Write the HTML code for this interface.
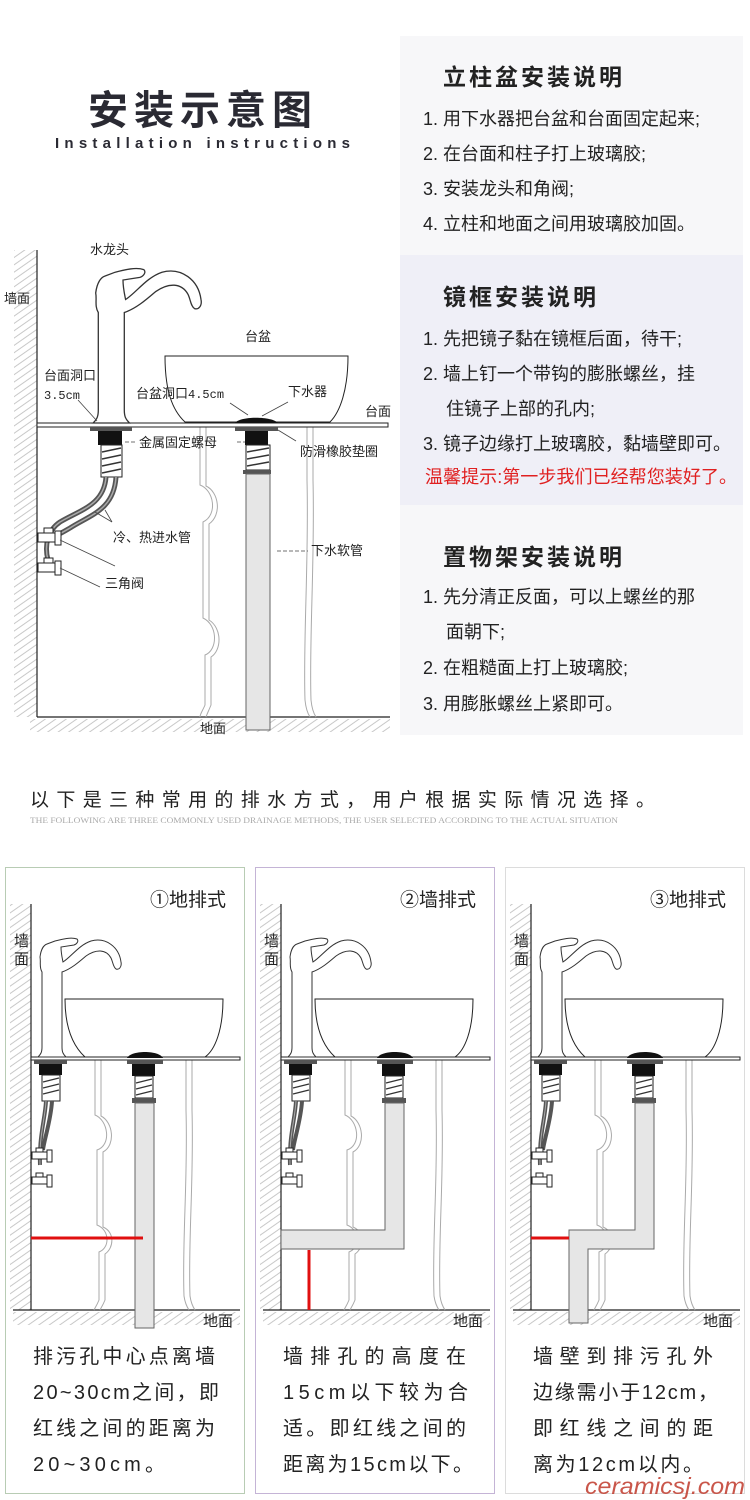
<!DOCTYPE html>
<html><head><meta charset="utf-8"><style>
html,body{margin:0;padding:0;background:#fff;}
svg{display:block;font-family:"Liberation Sans","Noto Sans CJK SC",sans-serif;}
</style></head><body>
<svg width="750" height="1500" viewBox="0 0 750 1500" xmlns="http://www.w3.org/2000/svg">
<defs>
<pattern id="h" width="6" height="6" patternUnits="userSpaceOnUse" patternTransform="rotate(-35)">
<rect width="6" height="6" fill="#fff"/><line x1="0" y1="3" x2="6" y2="3" stroke="#c8c8c8" stroke-width="1"/>
</pattern>
<path id="fau" d="M-3,0 C0,-3 1,-5 1,-10 L1,-85 C-2,-90 0,-95 -1,-100 C0,-108 3,-112 6,-113 L14,-116 C22,-118 30,-120 36,-118 C38,-116 36,-113 33,-112 L20,-110 C20,-104 21,-100 22,-95 C30,-100 38,-112 50,-116 C65,-120 78,-110 80,-95 C81,-90 78,-87 75,-88 C72,-90 72,-95 70,-99 C65,-108 55,-108 45,-101 C38,-95 30,-88 21,-85 L21,-10 C21,-5 22,-3 25,0 Z" fill="#fff" stroke="#333" stroke-width="1"/>
</defs>

<!-- Title -->
<text x="203" y="124" font-size="40" font-weight="bold" fill="#2a2a33" text-anchor="middle" letter-spacing="6">安装示意图</text>
<text x="55" y="148" font-size="15" font-weight="bold" fill="#2a2a33" textLength="295" lengthAdjust="spacing">Installation instructions</text>

<!-- Right panels -->
<rect x="400" y="36" width="343" height="219" fill="#f7f7f9"/>
<rect x="400" y="255" width="343" height="250" fill="#efeff7"/>
<rect x="400" y="505" width="343" height="230" fill="#f7f7f9"/>
<g fill="#222" font-size="18">
<text x="443" y="85" font-size="23" font-weight="bold" letter-spacing="3">立柱盆安装说明</text>
<text x="423" y="125">1. 用下水器把台盆和台面固定起来;</text>
<text x="423" y="160">2. 在台面和柱子打上玻璃胶;</text>
<text x="423" y="195">3. 安装龙头和角阀;</text>
<text x="423" y="230">4. 立柱和地面之间用玻璃胶加固。</text>
<text x="443" y="305" font-size="23" font-weight="bold" letter-spacing="3">镜框安装说明</text>
<text x="423" y="345">1. 先把镜子黏在镜框后面，待干;</text>
<text x="423" y="380">2. 墙上钉一个带钩的膨胀螺丝，挂</text>
<text x="446" y="415">住镜子上部的孔内;</text>
<text x="423" y="450">3. 镜子边缘打上玻璃胶，黏墙壁即可。</text>
<text x="425" y="483" fill="#e02020" textLength="312" lengthAdjust="spacingAndGlyphs">温馨提示:第一步我们已经帮您装好了。</text>
<text x="443" y="565" font-size="23" font-weight="bold" letter-spacing="3">置物架安装说明</text>
<text x="423" y="603">1. 先分清正反面，可以上螺丝的那</text>
<text x="446" y="638">面朝下;</text>
<text x="423" y="674">2. 在粗糙面上打上玻璃胶;</text>
<text x="423" y="710">3. 用膨胀螺丝上紧即可。</text>
</g>

<!-- Top diagram -->
<rect x="14" y="250" width="23" height="467" fill="url(#h)"/>
<rect x="30" y="719" width="360" height="13" fill="url(#h)"/>
<line x1="37" y1="250" x2="37" y2="717" stroke="#222" stroke-width="1.2"/>
<line x1="37" y1="717" x2="390" y2="717" stroke="#222" stroke-width="1.2"/>
<!-- pedestal -->
<g fill="none" stroke="#aaa" stroke-width="1">
<path d="M200,427 L200,485 C214,490 218,515 203,522 L203,618 C218,625 218,650 205,655 L205,705 C203,710 200,714 200,717"/>
<path d="M206,427 L206,486 C219,492 222,515 209,524 L209,620 C222,628 222,650 211,657 L211,705 C209,710 207,714 206,717"/>
<path d="M307,427 L307,480 C309,560 303,640 305,700 C306,710 308,714 310,717"/>
<path d="M313,427 L313,480 C315,560 309,640 311,700 C312,710 314,714 316,717"/>
</g>
<!-- basin -->
<path d="M165,356 L348,356 C348,390 340,412 330,422 L185,422 C172,410 165,390 165,356 Z" fill="#fff" stroke="#222" stroke-width="1"/>
<rect x="37" y="423" width="351" height="4" fill="#fff" stroke="#222" stroke-width="1"/>
<use href="#fau" transform="translate(97,423) scale(1.3)"/>
<!-- faucet fittings -->
<rect x="90" y="427" width="42" height="4" fill="#555"/>
<rect x="98" y="431" width="24" height="14" fill="#111"/>
<rect x="101" y="445" width="21" height="32" fill="#fff" stroke="#222"/>
<g stroke="#333" stroke-width="1.5"><line x1="102" y1="452" x2="121" y2="448"/><line x1="102" y1="459" x2="121" y2="455"/><line x1="102" y1="466" x2="121" y2="462"/><line x1="102" y1="473" x2="121" y2="469"/></g>
<!-- hoses -->
<g fill="none">
<path d="M106,477 C104,505 80,510 60,522 C48,530 44,545 48,560" stroke="#555" stroke-width="5"/>
<path d="M106,477 C104,505 80,510 60,522 C48,530 44,545 48,560" stroke="#aaa" stroke-width="1.5"/>
<path d="M116,477 C114,510 90,515 70,528 C58,535 50,540 45,535" stroke="#555" stroke-width="5"/>
<path d="M116,477 C114,510 90,515 70,528 C58,535 50,540 45,535" stroke="#aaa" stroke-width="1.5"/>
</g>
<g fill="#fff" stroke="#222" stroke-width="1">
<rect x="44" y="528" width="9" height="5"/><rect x="38" y="533" width="18" height="9"/><rect x="55" y="531" width="6" height="14"/>
<rect x="44" y="558" width="9" height="5"/><rect x="38" y="563" width="18" height="9"/><rect x="55" y="561" width="6" height="14"/>
</g>
<!-- drain -->
<path d="M235,423 C240,416 272,416 278,423 Z" fill="#111"/>
<rect x="235" y="427" width="43" height="4" fill="#555"/>
<rect x="245" y="431" width="23" height="14" fill="#111"/>
<rect x="246" y="445" width="24" height="25" fill="#fff" stroke="#222"/>
<g stroke="#333" stroke-width="1.5"><line x1="247" y1="452" x2="269" y2="448"/><line x1="247" y1="459" x2="269" y2="455"/><line x1="247" y1="466" x2="269" y2="462"/></g>
<rect x="243" y="470" width="28" height="4" fill="#555"/>
<rect x="246" y="474" width="24" height="256" fill="#e6e6e6" stroke="#666"/>
<!-- leader lines -->
<g stroke="#444" stroke-width="0.8" fill="none">
<line x1="78" y1="400" x2="97" y2="421"/>
<line x1="230" y1="403" x2="248" y2="415"/>
<line x1="288" y1="402" x2="262" y2="416"/>
<line x1="278" y1="430" x2="296" y2="441"/>
<line x1="95" y1="512" x2="112" y2="522"/><line x1="105" y1="510" x2="112" y2="522"/>
<line x1="60" y1="540" x2="115" y2="566"/>
<line x1="60" y1="568" x2="100" y2="587"/>
<line x1="125" y1="442" x2="136" y2="442" stroke-dasharray="4,2"/>
<line x1="237" y1="442" x2="245" y2="442" stroke-dasharray="4,2"/>
<line x1="277" y1="551" x2="308" y2="551" stroke-dasharray="4,2"/>
</g>
<g font-size="13" fill="#222">
<text x="90" y="254">水龙头</text>
<text x="4" y="303">墙面</text>
<text x="245" y="341">台盆</text>
<text x="44" y="380">台面洞口</text>
<text x="44" y="399" font-family="Liberation Mono,monospace" font-size="12">3.5cm</text>
<text x="136" y="398">台盆洞口<tspan font-family="Liberation Mono,monospace" font-size="12">4.5cm</tspan></text>
<text x="288" y="396">下水器</text>
<text x="365" y="416">台面</text>
<text x="139" y="447">金属固定螺母</text>
<text x="300" y="456">防滑橡胶垫圈</text>
<text x="113" y="542">冷、热进水管</text>
<text x="311" y="555">下水软管</text>
<text x="105" y="588">三角阀</text>
<text x="200" y="733">地面</text>
</g>

<!-- middle text -->
<text x="30" y="806" font-size="19" fill="#222" textLength="625" lengthAdjust="spacing">以下是三种常用的排水方式，用户根据实际情况选择。</text>
<text x="30" y="823" font-size="8" fill="#aaa" font-family="Liberation Serif,serif" textLength="588" lengthAdjust="spacingAndGlyphs">THE FOLLOWING ARE THREE COMMONLY USED DRAINAGE METHODS, THE USER SELECTED ACCORDING TO THE ACTUAL SITUATION</text>

<!-- Bottom panels -->
<rect x="5.5" y="867.5" width="239" height="626" fill="#fff" stroke="#b8ccb4"/>
<rect x="255.5" y="867.5" width="239" height="626" fill="#fff" stroke="#c4b4d6"/>
<rect x="505.5" y="867.5" width="239" height="626" fill="#fff" stroke="#dcdcdc"/>

<g id="sd">
<rect x="260" y="904" width="21" height="406" fill="url(#h)"/>
<rect x="263" y="1312" width="227" height="13" fill="url(#h)"/>
<line x1="281" y1="904" x2="281" y2="1310" stroke="#222" stroke-width="1.2"/>
<line x1="263" y1="1310" x2="490" y2="1310" stroke="#222" stroke-width="1.2"/>
<g fill="none" stroke="#aaa" stroke-width="1">
<path d="M345,1060 L345,1115 C358,1120 362,1145 347,1150 L347,1225 C360,1230 360,1248 349,1252 L349,1300 C347,1305 345,1308 344,1310"/>
<path d="M351,1060 L351,1116 C363,1122 366,1145 353,1152 L353,1227 C365,1232 364,1248 355,1254 L355,1300 C353,1305 351,1308 350,1310"/>
<path d="M436,1060 L436,1110 C438,1180 432,1240 434,1296 C435,1303 437,1307 439,1310"/>
<path d="M442,1060 L442,1110 C444,1180 438,1240 440,1296 C441,1303 443,1307 445,1310"/>
</g>
<path d="M315,999 L473,999 C473,1030 465,1050 455,1057 L335,1057 C322,1045 315,1025 315,999 Z" fill="#fff" stroke="#222" stroke-width="1"/>
<rect x="281" y="1057" width="209" height="3" fill="#fff" stroke="#222" stroke-width="1"/>
<use href="#fau" transform="translate(291,1057)"/>
<rect x="284" y="1060" width="33" height="4" fill="#555"/>
<rect x="289" y="1064" width="23" height="11" fill="#111"/>
<rect x="292" y="1075" width="18" height="26" fill="#fff" stroke="#222"/>
<g stroke="#333" stroke-width="1.3"><line x1="293" y1="1082" x2="309" y2="1078"/><line x1="293" y1="1088" x2="309" y2="1084"/><line x1="293" y1="1094" x2="309" y2="1090"/></g>
<g fill="none">
<path d="M296,1101 C295,1120 289,1135 290,1165" stroke="#555" stroke-width="4"/>
<path d="M302,1101 C301,1120 294,1140 293,1150" stroke="#555" stroke-width="4"/>
<path d="M296,1101 C295,1120 289,1135 290,1165" stroke="#aaa" stroke-width="1"/>
</g>
<g fill="#fff" stroke="#222" stroke-width="1">
<rect x="286" y="1148" width="7" height="4"/><rect x="282" y="1152" width="15" height="7"/><rect x="297" y="1150" width="5" height="12"/>
<rect x="286" y="1173" width="7" height="4"/><rect x="282" y="1177" width="15" height="7"/><rect x="297" y="1175" width="5" height="12"/>
</g>
<path d="M377,1058 C381,1050 409,1050 413,1058 Z" fill="#111"/>
<rect x="377" y="1060" width="36" height="4" fill="#555"/>
<rect x="382" y="1064" width="23" height="12" fill="#111"/>
<rect x="385" y="1076" width="18" height="22" fill="#fff" stroke="#222"/>
<g stroke="#333" stroke-width="1.3"><line x1="386" y1="1083" x2="402" y2="1079"/><line x1="386" y1="1089" x2="402" y2="1085"/><line x1="386" y1="1095" x2="402" y2="1091"/></g>
<rect x="382" y="1098" width="24" height="5" fill="#555"/>
<text x="264" y="946" font-size="15" fill="#222">墙</text>
<text x="264" y="964" font-size="15" fill="#222">面</text>
<text x="453" y="1326" font-size="15" fill="#222">地面</text>
</g>
<use href="#sd" transform="translate(-250,0)"/>
<use href="#sd" transform="translate(250,0)"/>

<!-- pipes -->
<rect x="135" y="1103" width="19" height="225" fill="#e6e6e6" stroke="#666"/>
<line x1="31" y1="1238" x2="143" y2="1238" stroke="#e01010" stroke-width="3"/>
<path d="M385,1103 L404,1103 L404,1249 L281,1249 L281,1230 L385,1230 Z" fill="#e6e6e6" stroke="#666"/>
<line x1="309" y1="1250" x2="309" y2="1310" stroke="#e01010" stroke-width="3"/>
<path d="M635,1103 L654,1103 L654,1249 L588,1249 L588,1323 L569,1323 L569,1230 L635,1230 Z" fill="#e6e6e6" stroke="#666"/>
<line x1="531" y1="1238" x2="569" y2="1238" stroke="#e01010" stroke-width="3"/>

<g font-size="19" fill="#222">
<text x="150" y="906">①地排式</text>
<text x="400" y="906">②墙排式</text>
<text x="650" y="906">③地排式</text>
</g>
<g font-size="20" fill="#222" lengthAdjust="spacing">
<text x="33" y="1363" textLength="182">排污孔中心点离墙</text>
<text x="33" y="1399" textLength="186">20~30cm之间，即</text>
<text x="33" y="1435" textLength="182">红线之间的距离为</text>
<text x="33" y="1471" textLength="132">20~30cm。</text>
<text x="283" y="1363" textLength="183">墙排孔的高度在</text>
<text x="283" y="1399" textLength="185">15cm以下较为合</text>
<text x="283" y="1435" textLength="183">适。即红线之间的</text>
<text x="283" y="1471" textLength="190">距离为15cm以下。</text>
<text x="533" y="1363" textLength="180">墙壁到排污孔外</text>
<text x="533" y="1399" textLength="185">边缘需小于12cm，</text>
<text x="533" y="1435" textLength="180">即红线之间的距</text>
<text x="533" y="1471" textLength="170">离为12cm以内。</text>
</g>
<text x="585" y="1494" font-size="23" fill="#c0392b" font-style="italic" textLength="160" lengthAdjust="spacingAndGlyphs" opacity="0.85">ceramicsj.com</text>
</svg>
</body></html>
